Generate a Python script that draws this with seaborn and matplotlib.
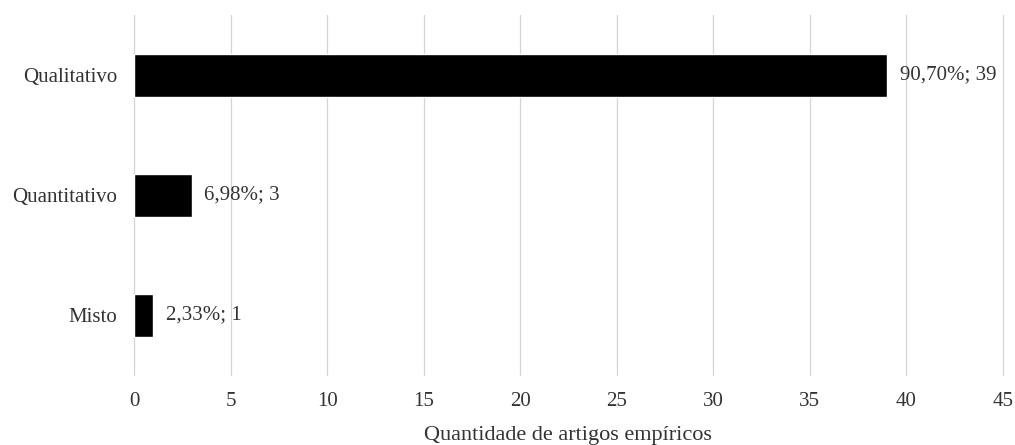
import pandas as pd
import matplotlib
matplotlib.use("Agg")
import matplotlib.pyplot as plt
import seaborn as sns

# dados
categorias = ["Qualitativo", "Quantitativo", "Misto"]
quantidades = [39, 3, 1]
rotulos = ["90,70%; 39", "6,98%; 3", "2,33%; 1"]
ticks_x = [0, 5, 10, 15, 20, 25, 30, 35, 40, 45]

df = pd.DataFrame({"Tipo": categorias, "Qtd": quantidades})

sns.set_style("white")
plt.rcParams["font.family"] = ["Liberation Serif", "DejaVu Serif"]

fig = plt.figure(figsize=(10.15, 4.45), dpi=100)
ax = fig.add_axes([0.132, 0.157, 0.856, 0.809])

sns.barplot(data=df, x="Qtd", y="Tipo", color="black", width=0.36,
            saturation=1, ax=ax, zorder=3)

for i, (q, r) in enumerate(zip(quantidades, rotulos)):
    ax.text(q + 0.65, i, r, va="center", ha="left", fontsize=15, color="#333333")

ax.set_xlim(0, 45)
ax.set_ylim(2.5, -0.5)
ax.set_xticks(ticks_x)
ax.xaxis.grid(True, color="#d4d4d4", linewidth=0.9, zorder=0)
ax.yaxis.grid(False)
for linha in ax.get_xgridlines():
    linha.set_clip_on(False)  # linhas de borda inteiras
for s in ax.spines.values():
    s.set_visible(False)
ax.tick_params(axis="both", length=0, labelsize=15, labelcolor="#333333")
ax.tick_params(axis="x", pad=12)
ax.tick_params(axis="y", pad=12)
ax.set_ylabel("")
ax.set_xlabel("Quantidade de artigos empíricos", fontsize=16, color="#333333", labelpad=11)

fig.savefig("out.png", dpi=100)
